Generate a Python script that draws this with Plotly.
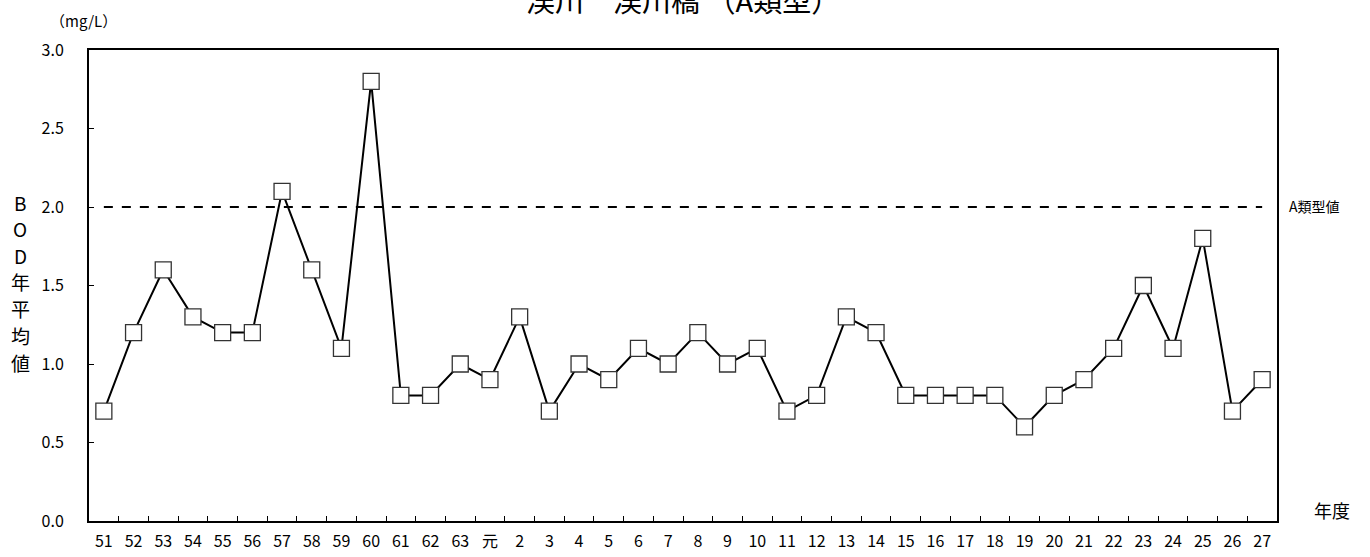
import plotly.graph_objects as go

years = ["51","52","53","54","55","56","57","58","59","60","61","62","63","元",
         "2","3","4","5","6","7","8","9","10","11","12","13","14","15","16","17",
         "18","19","20","21","22","23","24","25","26","27"]
bod = [0.7,1.2,1.6,1.3,1.2,1.2,2.1,1.6,1.1,2.8,0.8,0.8,1.0,0.9,
       1.3,0.7,1.0,0.9,1.1,1.0,1.2,1.0,1.1,0.7,0.8,1.3,1.2,0.8,0.8,0.8,
       0.8,0.6,0.8,0.9,1.1,1.5,1.1,1.8,0.7,0.9]
standard = 2.0
title = "渓川　渓川橋 （A類型）"
ylabel_chars = ["B", "O", "D", "年", "平", "均", "値"]

FONT = "Noto Sans CJK JP"
L, R, T, B = 89, 93, 50, 36
W, H = 1370, 557
PW, PH = W - L - R, H - T - B

def px(x):
    return (x - L) / PW

def py(y):
    return (H - B - y) / PH

fig = go.Figure()
fig.add_trace(go.Scatter(
    x=years, y=[standard]*len(years), mode="lines",
    line=dict(color="black", width=2, dash="dash"), hoverinfo="skip", showlegend=False))
fig.add_trace(go.Scatter(
    x=years, y=bod, mode="lines+markers",
    line=dict(color="black", width=2),
    marker=dict(symbol="square", size=16, color="white", line=dict(color="#333333", width=1.3)),
    showlegend=False))

annotations = [
    dict(text=title, xref="paper", yref="paper", x=0.5, y=py(-1), xanchor="center",
         yanchor="middle", showarrow=False, font=dict(size=29, family=FONT)),
    dict(text="（mg/L）", xref="paper", yref="paper", x=px(83), y=py(20),
         xanchor="center", yanchor="middle", showarrow=False, font=dict(size=15, family=FONT)),
    dict(text="A類型値", xref="paper", yref="paper", x=px(1287), y=py(206),
         xanchor="left", yanchor="middle", showarrow=False, font=dict(size=14, family=FONT)),
    dict(text="年度", xref="paper", yref="paper", x=px(1332), y=py(510),
         xanchor="center", yanchor="middle", showarrow=False, font=dict(size=18, family=FONT)),
]
ypos = [202, 228, 255, 281, 308, 335, 362]
for ch, yy in zip(ylabel_chars, ypos):
    annotations.append(dict(text=ch, xref="paper", yref="paper", x=px(20), y=py(yy),
                            xanchor="center", yanchor="middle", showarrow=False,
                            font=dict(size=19, family=FONT)))

fig.update_layout(
    width=W, height=H,
    margin=dict(l=L, r=R, t=T, b=B),
    paper_bgcolor="white", plot_bgcolor="white",
    font=dict(family=FONT, color="black", size=16),
    xaxis=dict(type="category", categoryorder="array", categoryarray=years,
               range=[-0.5, len(years) - 0.5], automargin=False,
               showline=True, linecolor="black", linewidth=2, mirror=True,
               ticks="inside", tickson="boundaries", ticklen=5, tickcolor="black", tickwidth=1,
               ticklabelstandoff=5,
               showgrid=False, tickfont=dict(size=16, family=FONT), tickangle=0),
    yaxis=dict(range=[0, 3.0], dtick=0.5, tickformat=".1f", automargin=False,
               showline=True, linecolor="black", linewidth=2, mirror=True,
               ticks="inside", ticklen=5, tickcolor="black", tickwidth=1,
               ticklabelstandoff=20,
               showgrid=False, zeroline=False, tickfont=dict(size=16, family=FONT)),
    annotations=annotations,
)

fig.write_html("out.html", config={"displayModeBar": False},
               post_script="document.body.style.margin='0';")
